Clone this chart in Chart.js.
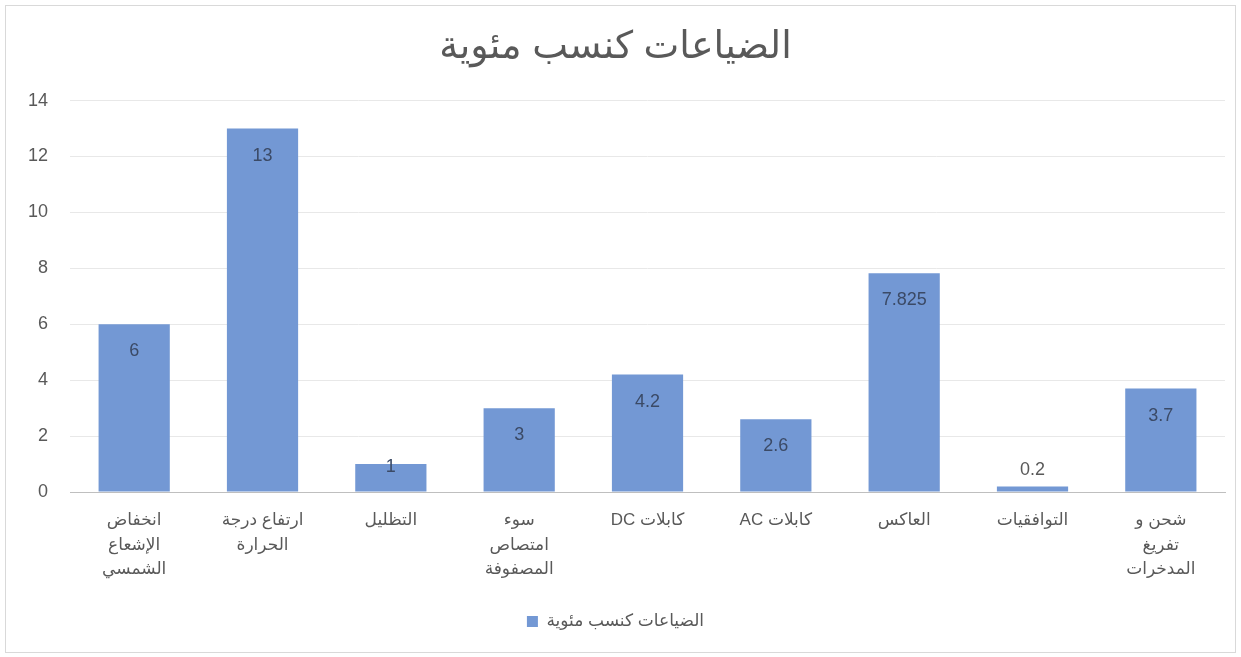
<!DOCTYPE html>
<html>
<head>
<meta charset="utf-8">
<script src="https://cdn.jsdelivr.net/npm/chart.js@4/dist/chart.umd.min.js"></script>
<style>
  html, body { margin: 0; padding: 0; background: #fff; }
  #frame { position: absolute; left: 5px; top: 5px; width: 1229px; height: 646px; border: 1px solid #d9d9d9; }
  #wrap { position: absolute; left: 0; top: 0; width: 1241px; height: 657px; }
</style>
</head>
<body>
<div id="frame"></div>
<div id="wrap"><canvas id="lossChart" dir="rtl" width="1241" height="657"></canvas></div>
<script>
// categories (multi-line labels, left to right)
var categories = [
  ['انخفاض', 'الإشعاع', 'الشمسي'],
  ['ارتفاع درجة', 'الحرارة'],
  ['التظليل'],
  ['سوء', 'امتصاص', 'المصفوفة'],
  ['كابلات DC'],
  ['كابلات AC'],
  ['العاكس'],
  ['التوافقيات'],
  ['شحن و', 'تفريغ', 'المدخرات']
];
var lossValues = [6, 13, 1, 3, 4.2, 2.6, 7.825, 0.2, 3.7];
var seriesName = 'الضياعات كنسب مئوية';
var chartTitle = 'الضياعات كنسب مئوية';

var fontFamily = '"Liberation Sans", "DejaVu Sans", Arial, sans-serif';

// value labels drawn at the top inside of each bar
var barValueLabels = {
  id: 'barValueLabels',
  afterDatasetsDraw: function(chart) {
    var ctx = chart.ctx;
    var meta = chart.getDatasetMeta(0);
    ctx.save();
    ctx.font = '18px ' + fontFamily;
    ctx.textAlign = 'center';
    ctx.textBaseline = 'middle';
    meta.data.forEach(function(bar, i) {
      var h = bar.base - bar.y;
      var y;
      if (h >= 50) {
        y = bar.y + 27;
        ctx.fillStyle = '#3b4a66';
      } else if (h >= 20) {
        y = bar.y + 3;
        ctx.fillStyle = '#3b4a66';
      } else {
        y = bar.y - 16;
        ctx.fillStyle = '#595959';
      }
      ctx.fillText(String(lossValues[i]), bar.x, y);
    });
    ctx.restore();
  }
};

var ctx = document.getElementById('lossChart').getContext('2d');
var chart = new Chart(ctx, {
  type: 'bar',
  data: {
    labels: categories,
    datasets: [{
      label: seriesName,
      data: lossValues,
      backgroundColor: '#7398d4',
      borderWidth: 0,
      categoryPercentage: 1,
      barPercentage: 0.555
    }]
  },
  options: {
    responsive: false,
    animation: false,
    layout: { padding: { left: 6, right: 16, top: 0, bottom: 17 } },
    plugins: {
      title: {
        display: true,
        text: chartTitle,
        color: '#595959',
        font: { family: fontFamily, size: 38, weight: 'normal' },
        padding: { top: 25, bottom: 30 }
      },
      legend: {
        position: 'bottom',
        labels: {
          color: '#595959',
          font: { family: fontFamily, size: 17 },
          boxWidth: 11,
          boxHeight: 11,
          padding: 23
        }
      },
      tooltip: { enabled: false }
    },
    scales: {
      x: {
        grid: { display: false },
        border: { color: '#bfbfbf', width: 1 },
        ticks: {
          color: '#595959',
          font: { family: fontFamily, size: 17, lineHeight: 1.45 },
          padding: 8,
          maxRotation: 0,
          autoSkip: false
        }
      },
      y: {
        min: 0,
        max: 14,
        border: { display: false },
        grid: {
          color: function(c) { return c.tick && c.tick.value === 0 ? '#bfbfbf' : '#e8e8e8'; },
          drawTicks: false
        },
        ticks: {
          stepSize: 2,
          color: '#595959',
          font: { family: fontFamily, size: 18 },
          padding: 22
        }
      }
    }
  },
  plugins: [barValueLabels]
});
</script>
</body>
</html>
